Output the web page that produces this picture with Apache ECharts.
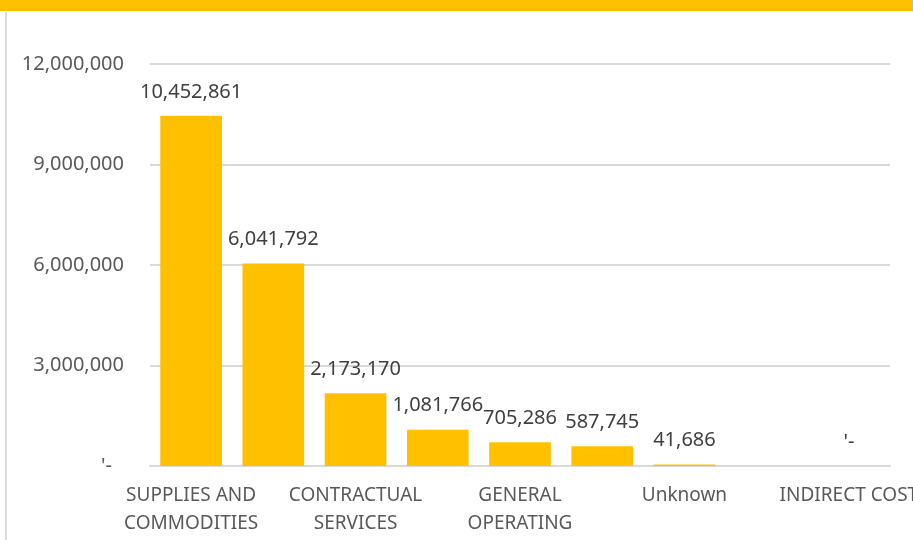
<!DOCTYPE html>
<html>
<head>
<meta charset="utf-8">
<script src="https://cdn.jsdelivr.net/npm/echarts@6/dist/echarts.min.js"></script>
<style>
    html, body { margin: 0; padding: 0; background: #fff; }
    #chart { width: 913px; height: 540px; }
</style>
</head>
<body>
<div id="chart"></div>
<script>
    // categories (every other label is hidden on the axis, like the original)
    let categories = [
        'SUPPLIES AND\nCOMMODITIES', 'EQUIPMENT',
        'CONTRACTUAL\nSERVICES', 'TRAVEL',
        'GENERAL\nOPERATING', 'UTILITIES',
        'Unknown', 'CAPITAL OUTLAY',
        'INDIRECT COST'
    ]
    let spending = [10452861, 6041792, 2173170, 1081766, 705286, 587745, 41686, null, 0]
    let yTicks = [0, 3000000, 6000000, 9000000, 12000000]

    let fmt = function (v) {
        if (v === 0) return "'-"
        return v.toLocaleString('en-US')
    }

    let textFont = '"Noto Sans", sans-serif'
    let gold = '#FFC000'

    let option = {
        animation: false,
        graphic: [
            {
                type: 'rect',
                shape: {x: 0, y: 0, width: 913, height: 11},
                style: {fill: gold},
                silent: true
            },
            {
                type: 'rect',
                shape: {x: 5, y: 12, width: 2, height: 528},
                style: {fill: '#d9d9d9'},
                silent: true
            }
        ],
        grid: {
            left: 150,
            right: 23,
            top: 64,
            bottom: 74,
            containLabel: false,
            outerBoundsMode: 'none'
        },
        xAxis: {
            type: 'category',
            data: categories,
            axisLine: {lineStyle: {color: '#d9d9d9', width: 2}},
            axisTick: {show: false},
            axisLabel: {
                interval: 1,
                color: '#595959',
                fontFamily: textFont,
                fontSize: 19,
                lineHeight: 28,
                margin: 16
            }
        },
        yAxis: {
            type: 'value',
            min: yTicks[0],
            max: yTicks[yTicks.length - 1],
            interval: 3000000,
            axisLine: {show: false},
            axisTick: {show: false},
            splitLine: {lineStyle: {color: '#d9d9d9', width: 2}},
            axisLabel: {
                color: '#595959',
                fontFamily: textFont,
                fontSize: 20,
                margin: 26,
                formatter: function (v) {
                    return v === 0 ? '{z|' + fmt(v) + '}' : fmt(v)
                },
                rich: {
                    z: {
                        color: '#595959',
                        fontFamily: textFont,
                        fontSize: 20,
                        padding: [0, 12, 0, 0]
                    }
                }
            }
        },
        series: [{
            type: 'bar',
            data: spending,
            barCategoryGap: '25%',
            itemStyle: {color: gold},
            label: {
                show: true,
                position: 'top',
                distance: 14,
                color: '#404040',
                fontFamily: textFont,
                fontSize: 20,
                formatter: function (p) { return fmt(p.value) }
            }
        }]
    }

    let myChart = echarts.init(document.getElementById('chart'))
    myChart.setOption(option)
</script>
</body>
</html>
